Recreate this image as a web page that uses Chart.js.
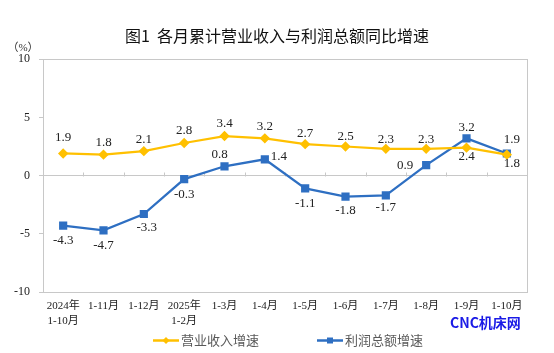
<!DOCTYPE html>
<html>
<head>
<meta charset="utf-8">
<script src="https://cdn.jsdelivr.net/npm/chart.js@4.4.1/dist/chart.umd.min.js"></script>
<style>
  html, body { margin: 0; padding: 0; background: #fff; }
  #wrap { width: 554px; height: 353px; position: relative; }
</style>
</head>
<body>
<div id="wrap"><canvas id="chart"></canvas></div>
<script>
// data
const months = [['2024年', '1-10月'], '1-11月', '1-12月', ['2025年', '1-2月'], '1-3月', '1-4月',
  '1-5月', '1-6月', '1-7月', '1-8月', '1-9月', '1-10月'];
const revenueGrowth = [1.9, 1.8, 2.1, 2.8, 3.4, 3.2, 2.7, 2.5, 2.3, 2.3, 2.4, 1.8];
const profitGrowth = [-4.3, -4.7, -3.3, -0.3, 0.8, 1.4, -1.1, -1.8, -1.7, 0.9, 3.2, 1.9];
const yTicks = [-10, -5, 0, 5, 10];
const seriesNames = ['营业收入增速', '利润总额增速'];

// where each value label sits relative to its point (dx, dy)
const revenueLabelPos = [[0, -16], [0, -12], [0, -12], [0, -12], [0, -12], [0, -12],
  [0, -11], [0, -10], [0, -9], [0, -9], [0, 9], [5, 9]];
const profitLabelPos = [[0, 15], [0, 15], [3, 14], [0, 15], [-5, -12], [14, -3],
  [0, 15], [0, 14], [0, 12], [-21, 0], [0, -11], [5, -14]];

const YELLOW = '#FFC000';
const BLUE = '#2E6FC2';
const GRAY = '#c8c8c8';
const SERIF = '"Liberation Serif", "Times New Roman", "Noto Sans CJK SC", serif';
const SANS = '"Noto Sans CJK SC", "Noto Sans", sans-serif';

// frame around plot area + little ticks on the zero line
const framePlugin = {
  id: 'frame',
  beforeDatasetsDraw(chart) {
    const { ctx, chartArea: a, scales } = chart;
    ctx.save();
    ctx.strokeStyle = GRAY;
    ctx.lineWidth = 1;
    ctx.strokeRect(Math.round(a.left) + 0.5, Math.round(a.top) + 0.5,
      Math.round(a.right - a.left), Math.round(a.bottom - a.top));
    const y0 = Math.round(scales.y.getPixelForValue(0)) + 0.5;
    ctx.beginPath();
    for (let i = 0; i < months.length - 1; i++) {
      const x = Math.round((scales.x.getPixelForValue(i) + scales.x.getPixelForValue(i + 1)) / 2) + 0.5;
      ctx.moveTo(x, y0);
      ctx.lineTo(x, y0 - 4);
    }
    ctx.stroke();
    ctx.restore();
  }
};

// value labels next to the points
const valueLabels = {
  id: 'valueLabels',
  afterDatasetsDraw(chart) {
    const { ctx } = chart;
    const offsets = [revenueLabelPos, profitLabelPos];
    ctx.save();
    ctx.font = '13px ' + SERIF;
    ctx.fillStyle = '#222';
    ctx.textAlign = 'center';
    ctx.textBaseline = 'middle';
    chart.data.datasets.forEach((ds, di) => {
      chart.getDatasetMeta(di).data.forEach((pt, i) => {
        const [dx, dy] = offsets[di][i];
        ctx.fillText(ds.data[i].toFixed(1), pt.x + dx, pt.y + dy);
      });
    });
    ctx.restore();
  }
};

// unit, legend and watermark
const extras = {
  id: 'extras',
  afterDraw(chart) {
    const { ctx } = chart;
    ctx.save();
    ctx.fillStyle = '#333';
    ctx.font = '11px ' + SERIF;
    ctx.textAlign = 'center';
    ctx.textBaseline = 'middle';
    ctx.fillText('（%）', 23, 48);

    // legend
    const styles = [
      { color: YELLOW, shape: 'diamond' },
      { color: BLUE, shape: 'square' }
    ];
    ctx.font = '13px ' + SANS;
    ctx.textAlign = 'left';
    const ly = 340.5;
    let x = 153;
    seriesNames.forEach((name, i) => {
      const s = styles[i];
      ctx.strokeStyle = s.color;
      ctx.fillStyle = s.color;
      ctx.lineWidth = 2.5;
      ctx.beginPath();
      ctx.moveTo(x, ly);
      ctx.lineTo(x + 26, ly);
      ctx.stroke();
      const cx = x + 13;
      ctx.beginPath();
      if (s.shape === 'diamond') {
        ctx.moveTo(cx, ly - 3.5); ctx.lineTo(cx + 3.5, ly);
        ctx.lineTo(cx, ly + 3.5); ctx.lineTo(cx - 3.5, ly);
      } else {
        ctx.rect(cx - 3, ly - 3, 6, 6);
      }
      ctx.fill();
      ctx.fillStyle = '#595959';
      ctx.fillText(name, x + 28, ly);
      x += 28 + ctx.measureText(name).width + 58;
    });

    ctx.font = 'bold 14px ' + SANS;
    ctx.fillStyle = '#1a1ae6';
    ctx.fillText('CNC机床网', 450, 323);
    ctx.restore();
  }
};

new Chart(document.getElementById('chart'), {
  type: 'line',
  data: {
    labels: months,
    datasets: [{
      label: seriesNames[0],
      data: revenueGrowth,
      borderColor: YELLOW,
      backgroundColor: YELLOW,
      borderWidth: 2.25,
      pointStyle: 'rectRot',
      pointRadius: 3.6,
      pointHoverRadius: 3.6,
      tension: 0
    }, {
      label: seriesNames[1],
      data: profitGrowth,
      borderColor: BLUE,
      backgroundColor: BLUE,
      borderWidth: 2.25,
      pointStyle: 'rect',
      pointRadius: 4.2,
      pointHoverRadius: 4.2,
      tension: 0
    }]
  },
  options: {
    responsive: true,
    maintainAspectRatio: false,
    animation: false,
    layout: { padding: { left: 0, right: 0, top: 0, bottom: 17 } },
    plugins: {
      legend: { display: false },
      tooltip: { enabled: false },
      title: {
        display: true,
        text: '图1  各月累计营业收入与利润总额同比增速',
        color: '#111',
        font: { family: SANS, size: 16, weight: 'normal' },
        padding: { top: 26, bottom: 14 }
      }
    },
    scales: {
      x: {
        offset: true,
        grid: { display: false, drawTicks: false },
        border: { display: false },
        ticks: {
          color: '#222',
          font: { family: SERIF, size: 11, lineHeight: 15 / 11 },
          padding: 7,
          maxRotation: 0,
          autoSkip: false
        }
      },
      y: {
        min: -10,
        max: 10,
        afterBuildTicks(scale) { scale.ticks = yTicks.map(v => ({ value: v })); },
        afterFit(scale) { scale.width = 43; },
        grid: {
          color: (c) => (c.tick && c.tick.value === 0 ? GRAY : 'rgba(0,0,0,0)'),
          tickColor: GRAY,
          tickLength: 4,
          drawTicks: true
        },
        border: { display: false },
        ticks: {
          color: '#222',
          font: { family: SERIF, size: 12 },
          padding: 9
        }
      },
      // empty right axis, only keeps the right margin so the title stays centred
      y2: {
        position: 'right',
        afterFit(scale) { scale.width = 27; },
        grid: { display: false, drawTicks: false },
        border: { display: false },
        ticks: { display: false }
      }
    }
  },
  plugins: [framePlugin, valueLabels, extras]
});
</script>
</body>
</html>
